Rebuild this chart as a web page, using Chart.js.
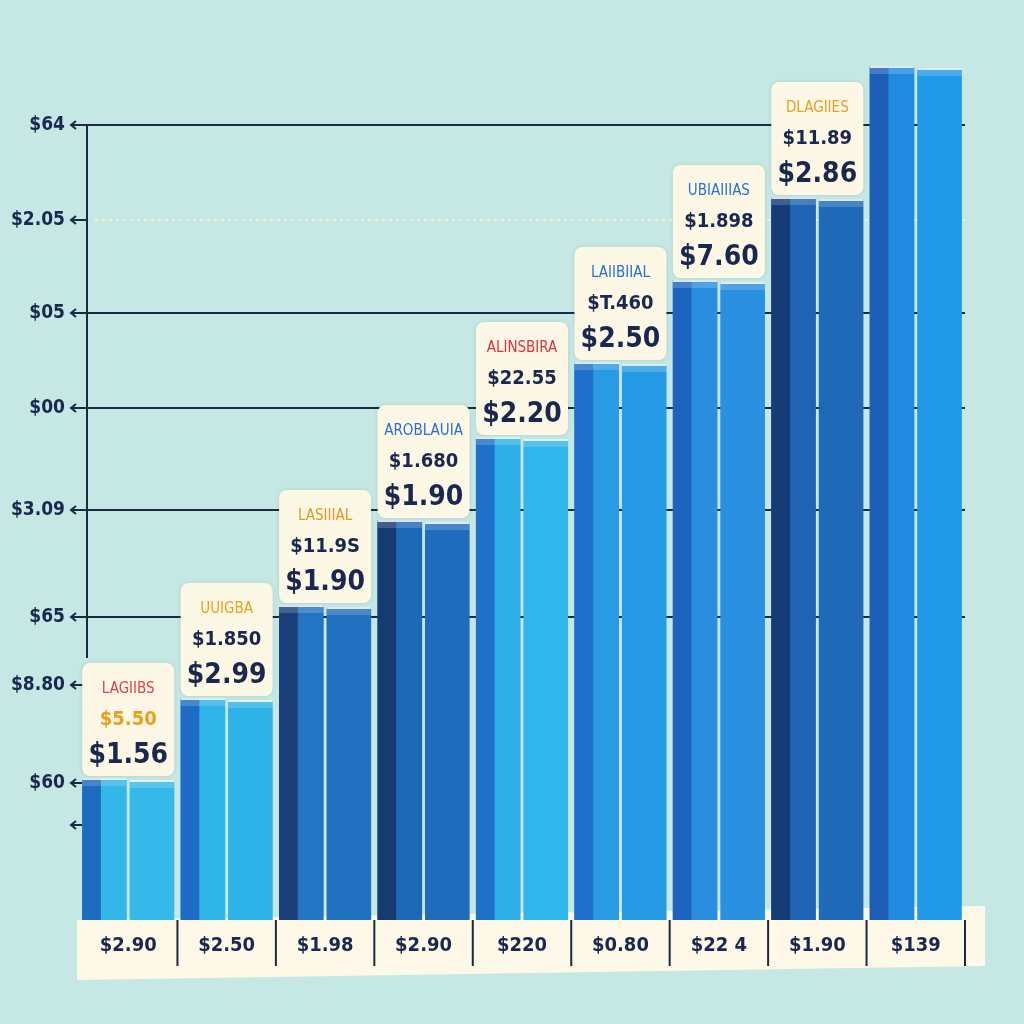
<!DOCTYPE html>
<html>
<head>
<meta charset="utf-8">
<script src="https://cdn.jsdelivr.net/npm/chart.js@4/dist/chart.umd.min.js"></script>
<style>
  html, body { margin: 0; padding: 0; background: #c6e8e4; }
  canvas { display: block; }
</style>
</head>
<body>
<canvas id="myChart" width="1024" height="1024"></canvas>
<script>
let categories = ["$2.90", "$2.50", "$1.98", "$2.90", "$220", "$0.80", "$22 4", "$1.90", "$139"];

let frontBars = [142, 222, 315, 400, 483, 558, 640, 723, 854];
let backBars = [140, 220, 313, 398, 481, 556, 638, 721, 852];

let yTickValues = [795, 700, 607, 512, 410, 303, 235, 137, 95];
let yTickLabels = ["$64", "$2.05", "$05", "$00", "$3.09", "$65", "$8.80", "$60", ""];

let boxTitles = ["LAGIIBS", "UUIGBA", "LASIIIAL", "AROBLAUIA", "ALINSBIRA", "LAIIBIIAL", "UBIAIIIAS", "DLAGIIES"];
let boxSmall = ["$5.50", "$1.850", "$11.9S", "$1.680", "$22.55", "$T.460", "$1.898", "$11.89"];
let boxBig = ["$1.56", "$2.99", "$1.90", "$1.90", "$2.20", "$2.50", "$7.60", "$2.86"];

let titleColors = ['#e0404a', '#e8a020', '#e09a20', '#2a6fd0', '#e03040', '#2a70d0', '#2a70d0', '#e8a020'];
let smallColors = ['#e8a020', '#1a2850', '#1a2850', '#1a2850', '#1a2850', '#1a2850', '#1a2850', '#1a2850'];

let sideColors = ['#1d6cc0', '#1f6cc6', '#1a3f7a', '#173a72', '#1e70c8', '#1f70cc', '#1d64c0', '#163c78', '#1d5fb8'];
let frontColors = ['#33b6e8', '#2fb4e8', '#2474c4', '#1e68b8', '#2db0e8', '#2a9ae4', '#2a8de0', '#1f64b4', '#1f8ae0'];
let backColors = ['#35b9ea', '#2eb3e8', '#2270c0', '#1f6cbc', '#30b6ea', '#279ae5', '#2a90e0', '#1f6ab8', '#209ae8'];

let navy = '#1a2850';
let narrow = '"Liberation Sans Narrow", "DejaVu Sans Condensed", sans-serif';

// cream base band with dividers under the bars
let basePlugin = {
    id: 'base',
    beforeDraw(chart) {
        let ctx = chart.ctx;
        let x = chart.scales.x;
        let area = chart.chartArea;
        ctx.save();
        ctx.fillStyle = '#fdf8e8';
        ctx.beginPath();
        ctx.moveTo(x.left - 2, area.bottom);
        ctx.lineTo(x.right + 20, area.bottom - 14);
        ctx.lineTo(x.right + 20, area.bottom + 46);
        ctx.lineTo(x.left - 2, area.bottom + 60);
        ctx.closePath();
        ctx.fill();
        ctx.strokeStyle = '#1a2a40';
        ctx.lineWidth = 2;
        for (let i = 0; i < categories.length; i++) {
            let bx = i < categories.length - 1
                ? (x.getPixelForValue(i) + x.getPixelForValue(i + 1)) / 2
                : x.right;
            ctx.beginPath();
            ctx.moveTo(bx, area.bottom);
            ctx.lineTo(bx, area.bottom + 46);
            ctx.stroke();
        }
        ctx.restore();
    },
    beforeDatasetsDraw(chart) {
        let ctx = chart.ctx;
        let y = chart.scales.y;
        let area = chart.chartArea;
        ctx.save();
        // dotted guide
        let py = y.getPixelForValue(yTickValues[1]);
        ctx.strokeStyle = '#f4f0d6';
        ctx.lineWidth = 2;
        ctx.setLineDash([3, 4]);
        ctx.beginPath();
        ctx.moveTo(area.left + 16, py);
        ctx.lineTo(area.right, py);
        ctx.stroke();
        ctx.setLineDash([]);
        // axis line
        ctx.strokeStyle = '#1a2a40';
        ctx.lineWidth = 2;
        ctx.beginPath();
        ctx.moveTo(area.left + 8, y.getPixelForValue(yTickValues[0]));
        ctx.lineTo(area.left + 8, y.getPixelForValue(262));
        ctx.stroke();
        // arrow tips
        yTickValues.forEach(v => {
            let ty = y.getPixelForValue(v);
            ctx.beginPath();
            ctx.moveTo(area.left - 3, ty - 4);
            ctx.lineTo(area.left - 8, ty);
            ctx.lineTo(area.left - 3, ty + 4);
            ctx.moveTo(area.left - 8, ty);
            ctx.lineTo(area.left + 8, ty);
            ctx.stroke();
        });
        ctx.restore();
    }
};

// side faces, caps and price boxes
let boxPlugin = {
    id: 'boxes',
    afterDatasetsDraw(chart) {
        let ctx = chart.ctx;
        let m0 = chart.getDatasetMeta(0).data;
        let m1 = chart.getDatasetMeta(1).data;
        ctx.save();
        m0.forEach((bar, i) => {
            let w = bar.width;
            ctx.fillStyle = sideColors[i];
            ctx.fillRect(bar.x - w / 2, bar.y, w * 0.42, bar.base - bar.y);
            [bar, m1[i]].forEach(b => {
                ctx.fillStyle = 'rgba(255,255,255,0.85)';
                ctx.fillRect(b.x - b.width / 2, b.y, b.width, 2);
                ctx.fillStyle = 'rgba(255,255,255,0.18)';
                ctx.fillRect(b.x - b.width / 2, b.y + 2, b.width, 6);
            });
        });
        for (let i = 0; i < boxTitles.length; i++) {
            let a = m0[i], b = m1[i];
            let cx = (a.x + b.x) / 2;
            let top = Math.min(a.y, b.y);
            let bw = 92, bh = 113;
            let bx = cx - bw / 2, by = top - 2 - bh;
            ctx.shadowColor = 'rgba(0,0,0,0.12)';
            ctx.shadowBlur = 4;
            ctx.fillStyle = '#fdf8e6';
            ctx.beginPath();
            ctx.roundRect(bx, by, bw, bh, 8);
            ctx.fill();
            ctx.shadowColor = 'transparent';
            ctx.textAlign = 'center';
            ctx.textBaseline = 'middle';
            ctx.fillStyle = titleColors[i];
            ctx.font = '15px ' + narrow;
            ctx.fillText(boxTitles[i], cx, by + 26);
            ctx.fillStyle = smallColors[i];
            ctx.font = 'bold 20px ' + narrow;
            ctx.fillText(boxSmall[i], cx, by + 57);
            ctx.fillStyle = navy;
            ctx.font = 'bold 28px ' + narrow;
            ctx.fillText(boxBig[i], cx, by + 93);
        }
        ctx.restore();
    }
};

let myChart = document.getElementById("myChart").getContext('2d');

let chart1 = new Chart(myChart, {
    type: 'bar',
    data: {
        labels: categories,
        datasets: [{
            data: frontBars,
            backgroundColor: frontColors,
            categoryPercentage: 0.965,
            barPercentage: 0.94
        }, {
            data: backBars,
            backgroundColor: backColors,
            categoryPercentage: 0.965,
            barPercentage: 0.94
        }]
    },
    options: {
        responsive: false,
        animation: false,
        layout: {
            padding: { top: 60, right: 59, left: 4, bottom: 60 }
        },
        plugins: {
            legend: { display: false },
            tooltip: { enabled: false }
        },
        scales: {
            x: {
                grid: { display: false },
                border: { display: false },
                ticks: {
                    color: navy,
                    padding: 6,
                    font: { family: narrow, size: 20, weight: 'bold' }
                }
            },
            y: {
                min: 0,
                max: 860,
                afterBuildTicks(scale) {
                    scale.ticks = yTickValues.map(v => ({ value: v }));
                },
                afterFit(scale) {
                    scale.width = 75;
                },
                grid: {
                    drawTicks: false,
                    lineWidth: 2,
                    color(ctx) {
                        let v = ctx.tick ? ctx.tick.value : null;
                        return [795, 607, 512, 410, 303].includes(v) ? '#1a2a40' : 'transparent';
                    }
                },
                border: { display: false },
                ticks: {
                    color: navy,
                    padding: 14,
                    font: { family: narrow, size: 19, weight: 'bold' },
                    callback(value) {
                        let i = yTickValues.indexOf(value);
                        return i >= 0 ? yTickLabels[i] : '';
                    }
                }
            }
        }
    },
    plugins: [basePlugin, boxPlugin]
});
</script>
</body>
</html>
